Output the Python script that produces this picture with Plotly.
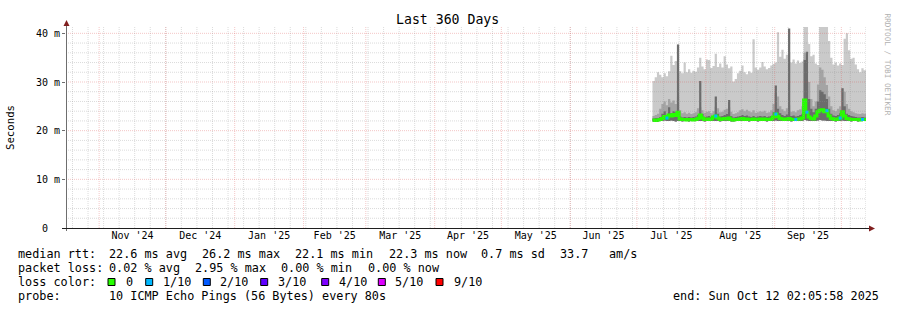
import plotly.graph_objects as go
import pandas as pd

# ---------------- data ----------------
RANGE_START = "2024-10-17 02:05:58"
RANGE_END = "2025-10-12 02:05:58"
DATA_START = "2025-07-08"

# daily values (ms) from 2025-07-08 to 2025-10-11
RTT_MAX = [30.2, 31.0, 32.0, 31.5, 31.0, 31.8, 31.2, 32.2, 35.4, 33.5,
           34.3, 37.7, 32.2, 31.8, 34.0, 32.0, 32.6, 31.9, 32.3, 32.1,
           33.0, 35.0, 33.2, 32.6, 34.6, 34.5, 32.9, 33.3, 35.8, 33.1,
           33.8, 33.0, 35.3, 33.6, 32.8, 33.2, 30.1, 30.6, 31.8, 32.3,
           33.4, 32.0, 31.6, 32.2, 31.9, 38.8, 33.0, 32.5, 33.0, 34.1,
           33.2, 32.6, 32.9, 33.4, 33.7, 34.0, 40.2, 35.2, 36.6, 34.8,
           35.6, 36.0, 34.0, 34.6, 33.8, 34.4, 33.9, 34.2, 44.0, 44.0,
           37.8, 35.3, 35.6, 33.8, 33.5, 44.0, 44.0, 44.0, 44.0, 38.4,
           35.0, 33.6, 34.0, 33.4, 33.8, 33.5, 38.9, 40.0, 36.5, 34.8,
           35.0, 33.6, 32.6, 32.0, 32.8, 32.4]

RTT_P90 = [23.0, 23.2, 23.5, 24.5, 25.5, 26.0, 25.2, 26.5, 25.8, 26.2,
           25.5, 27.0, 24.2, 23.6, 23.8, 23.5, 23.7, 23.4, 23.6, 23.8,
           24.6, 24.8, 24.2, 23.7, 23.9, 24.0, 23.6, 24.0, 24.9, 24.6,
           23.8, 23.9, 24.3, 24.5, 24.8, 23.9, 23.4, 23.6, 23.8, 24.2,
           24.4, 24.0, 24.3, 24.0, 23.8, 24.2, 23.7, 23.8, 24.0, 23.9,
           24.1, 23.7, 23.8, 24.2, 25.5, 27.7, 27.0, 25.0, 24.4, 24.0,
           24.6, 25.2, 23.9, 24.0, 23.8, 24.2, 24.4, 25.0, 36.0, 33.0,
           30.0, 26.5, 25.0, 26.0, 29.5, 33.0, 32.5, 31.0, 29.4, 27.0,
           25.0, 24.2, 24.0, 24.5, 25.0, 28.7, 28.0, 25.5, 24.5, 24.0,
           23.8, 23.6, 23.5, 23.4, 23.6, 23.5]

RTT_P70 = [22.5, 22.6, 22.6, 22.8, 23.5, 24.0, 23.2, 24.8, 23.6, 24.0,
           23.8, 37.7, 22.9, 22.7, 22.8, 22.7, 22.8, 22.7, 22.8, 22.9,
           23.2, 30.2, 23.4, 22.8, 22.9, 23.0, 22.8, 23.0, 27.0, 23.5,
           22.9, 23.0, 23.2, 23.4, 26.3, 23.0, 22.7, 22.8, 22.9, 23.0,
           23.2, 23.0, 23.1, 22.9, 22.8, 23.0, 22.8, 22.9, 23.0, 22.9,
           23.0, 22.8, 22.9, 23.0, 23.8, 29.3, 24.5, 23.6, 23.2, 23.0,
           23.3, 41.0, 23.0, 23.1, 22.9, 23.0, 23.2, 23.5, 34.5, 36.2,
           26.5, 24.5, 23.8, 24.5, 26.0, 28.3, 28.0, 27.5, 26.5, 24.5,
           23.5, 23.1, 23.0, 23.2, 23.6, 28.7, 25.0, 23.5, 23.2, 23.0,
           22.9, 22.8, 22.7, 22.7, 22.8, 22.7]

RTT_MEDIAN = [22.2, 22.1, 22.2, 22.3, 22.5, 22.9, 22.6, 23.2, 23.0, 23.3,
              23.1, 23.8, 22.4, 22.3, 22.3, 22.2, 22.3, 22.3, 22.2, 22.3,
              22.5, 23.2, 22.6, 22.3, 22.4, 22.3, 22.4, 22.8, 23.0, 22.6,
              22.3, 22.4, 22.5, 22.4, 22.6, 22.3, 22.2, 22.3, 22.3, 22.4,
              22.5, 22.3, 22.4, 22.3, 22.3, 22.4, 22.3, 22.3, 22.4, 22.3,
              22.4, 22.3, 22.3, 22.4, 22.8, 23.4, 22.9, 22.5, 22.4, 22.3,
              22.4, 22.5, 22.3, 22.3, 22.3, 22.4, 22.4, 22.6, 26.3, 23.8,
              22.8, 22.5, 22.4, 23.0, 23.9, 24.2, 24.3, 23.9, 24.1, 23.0,
              22.5, 22.4, 22.3, 22.4, 22.6, 23.9, 23.0, 22.5, 22.4, 22.3,
              22.3, 22.3, 22.3, 22.2, 22.3, 22.3]

RTT_MIN = [21.9, 22.0, 21.9, 22.0, 22.0, 22.1, 22.0, 22.0, 22.1, 22.0,
           21.9, 22.0, 22.0, 21.9, 22.0, 22.0, 21.9, 22.0, 22.0, 22.0,
           22.0, 22.0, 22.0, 21.9, 22.0, 22.0, 22.0, 22.0, 22.0, 22.0,
           21.9, 22.0, 22.0, 22.0, 22.0, 21.9, 21.9, 22.0, 22.0, 22.0,
           22.0, 22.0, 22.0, 21.9, 22.0, 22.0, 22.0, 21.9, 22.0, 22.0,
           22.0, 21.9, 22.0, 22.0, 22.0, 22.1, 22.0, 22.0, 22.0, 22.0,
           22.0, 22.0, 21.9, 22.0, 22.0, 22.0, 22.0, 22.0, 22.2, 22.1,
           22.0, 22.0, 22.0, 22.0, 22.1, 22.2, 22.1, 22.1, 22.0, 22.0,
           22.0, 22.0, 21.9, 22.0, 22.0, 22.1, 22.0, 22.0, 22.0, 21.9,
           22.0, 22.0, 21.9, 22.0, 22.0, 22.0]

# packet loss per day in tenths (0 = none)
LOSS_TENTHS = [0, 0, 0, 0, 0, 0, 1, 0, 0, 0,
               0, 0, 0, 0, 0, 0, 0, 0, 0, 0,
               0, 0, 0, 0, 0, 0, 0, 0, 1, 0,
               0, 0, 0, 0, 0, 0, 0, 0, 0, 0,
               0, 0, 0, 0, 0, 0, 0, 0, 0, 0,
               0, 0, 0, 0, 0, 1, 0, 0, 0, 0,
               0, 0, 0, 0, 1, 0, 0, 0, 0, 1,
               0, 0, 0, 0, 0, 0, 0, 0, 1, 0,
               0, 0, 0, 0, 1, 0, 0, 0, 0, 0,
               0, 0, 0, 0, 1, 0]

MONTH_STARTS = ["2024-10-01", "2024-11-01", "2024-12-01", "2025-01-01", "2025-02-01",
                "2025-03-01", "2025-04-01", "2025-05-01", "2025-06-01", "2025-07-01",
                "2025-08-01", "2025-09-01", "2025-10-01", "2025-11-01"]
MONTH_LABELS = ["", "Nov '24", "Dec '24", "Jan '25", "Feb '25", "Mar '25", "Apr '25",
                "May '25", "Jun '25", "Jul '25", "Aug '25", "Sep '25", ""]
WEEK_ANCHOR = "2024-10-20"

Y_TICKS = [0, 10, 20, 30, 40]
Y_TICK_TEXT = ["0\u00a0\u00a0", "10 m", "20 m", "30 m", "40 m"]
Y_MINOR_STEP = 2

LOSS_LEGEND_LABELS = ["0", "1/10", "2/10", "3/10", "4/10", "5/10", "9/10"]
LOSS_LEGEND_COLORS = ["#26ff00", "#00b8ff", "#0059ff", "#5e00ff", "#7e00ff", "#dd00ff", "#ff0000"]

LINE_MEDIAN = [("median rtt:", 16), ("22.6 ms avg", 107.3), ("26.2 ms max", 200.3),
               ("22.1 ms min", 293.3), ("22.3 ms now", 386.7), ("0.7 ms sd", 479.3),
               ("33.7", 558.3), ("am/s", 607.3)]
LINE_LOSS = [("packet loss:", 16), ("0.02 % avg", 107.3), ("2.95 % max", 193.3),
             ("0.00 % min", 279.3), ("0.00 % now", 365.7)]
LINE_PROBE = [("probe:", 16), ("10 ICMP Echo Pings (56 Bytes) every 80s", 107.3)]
END_TEXT = "end: Sun Oct 12 02:05:58 2025"
TITLE = "Last 360 Days"

# ---------------- layout geometry ----------------
W, H = 897, 310
L, R, T, B = 66, 31, 27, 82
PW, PH = W - L - R, H - T - B
Y_MAX = 41.3
FONT = "DejaVu Sans Mono"


def px(x):
    return (x - L) / PW


def py(y):
    return (H - B - y) / PH


days = list(pd.date_range(DATA_START, periods=len(RTT_MAX), freq="D"))
xs = days + [pd.Timestamp(RANGE_END)]


def ext(v):
    return list(v) + [v[-1]]


fig = go.Figure()

bands = [(RTT_MAX, "#cacaca"), (RTT_P90, "#a4a4a4"), (RTT_P70, "#6c6c6c")]
for vals, col in bands:
    fig.add_trace(go.Scatter(x=xs, y=ext(RTT_MIN), mode="lines", line=dict(width=0, shape="hv"),
                             hoverinfo="skip", showlegend=False))
    fig.add_trace(go.Scatter(x=xs, y=ext(vals), mode="lines", line=dict(width=0, shape="hv"),
                             fill="tonexty", fillcolor=col, hoverinfo="skip", showlegend=False))

fig.add_trace(go.Scatter(x=xs, y=ext(RTT_MEDIAN), mode="lines",
                         line=dict(width=3, shape="hv", color=LOSS_LEGEND_COLORS[0]),
                         hoverinfo="skip", showlegend=False))

loss_idx = [i for i, v in enumerate(LOSS_TENTHS) if v > 0]
fig.add_trace(go.Scatter(
    x=[days[i] + pd.Timedelta(hours=12) for i in loss_idx],
    y=[RTT_MEDIAN[i] for i in loss_idx],
    mode="markers",
    marker=dict(symbol="square", size=3, color=[LOSS_LEGEND_COLORS[min(LOSS_TENTHS[i], 6)] for i in loss_idx],
                line=dict(width=0)),
    hoverinfo="skip", showlegend=False))

shapes = []
minor_col = "rgba(143,143,143,0.32)"
major_col = "rgba(222,80,80,0.32)"
dash = "1px,1px"
# horizontal grid
for v in range(Y_MINOR_STEP, int(Y_MAX) + 1, Y_MINOR_STEP):
    if v % 10 == 0:
        continue
    shapes.append(dict(type="line", xref="paper", yref="y", x0=0, x1=1, y0=v, y1=v,
                       line=dict(color=minor_col, width=1, dash=dash), layer="above"))
for v in Y_TICKS[1:]:
    shapes.append(dict(type="line", xref="paper", yref="y", x0=0, x1=1, y0=v, y1=v,
                       line=dict(color=major_col, width=1, dash=dash), layer="above"))
# vertical grid
for d in pd.date_range(WEEK_ANCHOR, RANGE_END, freq="7D"):
    shapes.append(dict(type="line", xref="x", yref="paper", x0=d, x1=d, y0=0, y1=1,
                       line=dict(color=minor_col, width=1, dash=dash), layer="above"))
for m in MONTH_STARTS:
    if pd.Timestamp(RANGE_START) < pd.Timestamp(m) < pd.Timestamp(RANGE_END):
        shapes.append(dict(type="line", xref="x", yref="paper", x0=m, x1=m, y0=0, y1=1,
                           line=dict(color=major_col, width=1, dash=dash), layer="above"))
# axes
shapes.append(dict(type="line", xref="paper", yref="paper", x0=px(66.5), x1=px(66.5), y0=py(231), y1=py(24),
                   line=dict(color="#6e6e6e", width=1), layer="above"))
shapes.append(dict(type="line", xref="paper", yref="paper", x0=px(62), x1=px(869), y0=py(228.5), y1=py(228.5),
                   line=dict(color="#1f1f1f", width=1), layer="above"))
arrow_col = "#801f1f"
shapes.append(dict(type="path", xref="paper", yref="paper",
                   path=f"M {px(63.5)} {py(26)} L {px(69.5)} {py(26)} L {px(66.5)} {py(20)} Z",
                   fillcolor=arrow_col, line=dict(width=0), layer="above"))
shapes.append(dict(type="path", xref="paper", yref="paper",
                   path=f"M {px(869)} {py(225.5)} L {px(869)} {py(231.5)} L {px(875)} {py(228.5)} Z",
                   fillcolor=arrow_col, line=dict(width=0), layer="above"))

# loss colour legend boxes
BOX_X = [108, 145.7, 203.3, 260.7, 321.7, 378.3, 436]
TEXT_X = [123.7, 160.7, 218.3, 276, 336.7, 393.3, 452]
for bx, col in zip(BOX_X, LOSS_LEGEND_COLORS):
    shapes.append(dict(type="rect", xref="paper", yref="paper", x0=px(bx), x1=px(bx + 7),
                       y0=py(285.5), y1=py(278.5), fillcolor=col, line=dict(color="#000000", width=1),
                       layer="above"))

annotations = []


def text(t, x, y, size=11.8, anchor="left", color="#000000", angle=0):
    annotations.append(dict(text=t, x=px(x), y=py(y), xref="paper", yref="paper", showarrow=False,
                            xanchor=anchor, yanchor="middle", textangle=angle,
                            font=dict(family=FONT, size=size, color=color)))


for t, x in LINE_MEDIAN:
    text(t, x, 254)
for t, x in LINE_LOSS:
    text(t, x, 268)
text("loss color:", 16, 282)
for lab, tx in zip(LOSS_LEGEND_LABELS, TEXT_X):
    text(lab, tx, 282)
for t, x in LINE_PROBE:
    text(t, x, 296)
text(END_TEXT, 881, 296, anchor="right")
text(TITLE, 447.5, 19.5, size=13.2, anchor="center")
text("Seconds", 11, 127, size=10.7, anchor="center", angle=-90)
text("RRDTOOL / TOBI OETIKER", 887.5, 64, size=7.7, anchor="center", color="#b0b0b0", angle=90)

# month label positions: middle of each month
mids = []
labels = []
for i, lab in enumerate(MONTH_LABELS):
    if not lab:
        continue
    a = pd.Timestamp(MONTH_STARTS[i])
    b = pd.Timestamp(MONTH_STARTS[i + 1])
    mids.append(a + (b - a) / 2)
    labels.append(lab)

fig.update_layout(
    width=W, height=H,
    margin=dict(l=L, r=R, t=T, b=B, pad=0),
    paper_bgcolor="#ffffff", plot_bgcolor="#ffffff",
    shapes=shapes, annotations=annotations,
    showlegend=False,
    xaxis=dict(type="date", range=[RANGE_START, RANGE_END], showgrid=False, zeroline=False,
               showline=False, tickmode="array", tickvals=mids, ticktext=labels, ticks="",
               tickfont=dict(family=FONT, size=10, color="#000000"), fixedrange=True),
    yaxis=dict(range=[0, Y_MAX], showgrid=False, zeroline=False, showline=False,
               tickmode="array", tickvals=Y_TICKS, ticktext=Y_TICK_TEXT, ticks="outside",
               ticklen=3, tickcolor="#6e6e6e", tickfont=dict(family=FONT, size=10, color="#000000"),
               fixedrange=True),
)

fig.write_html("out.html")
